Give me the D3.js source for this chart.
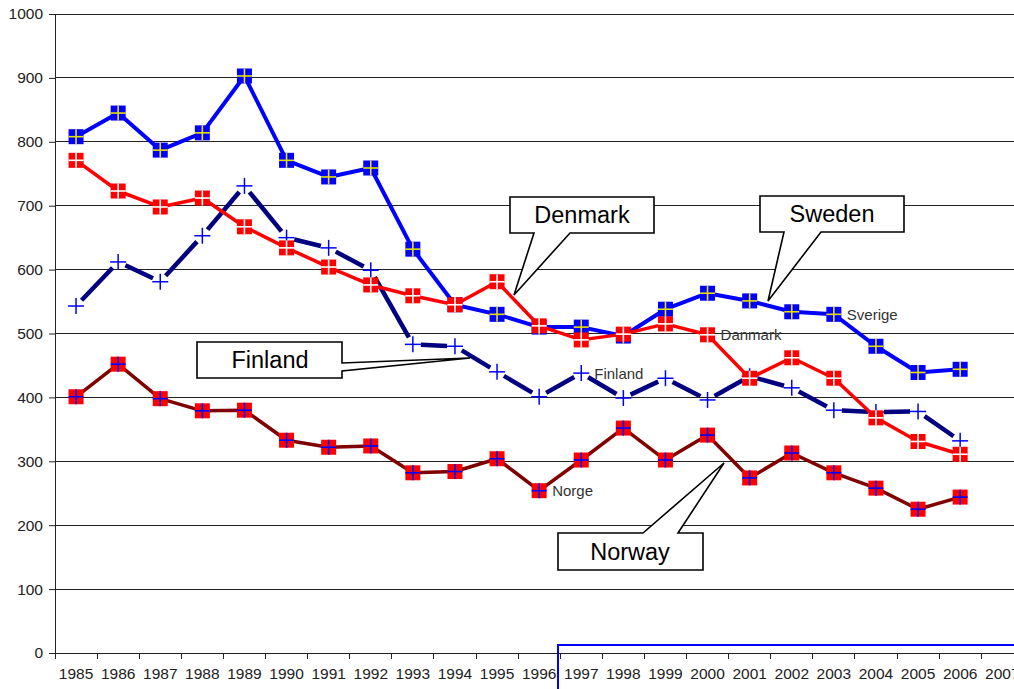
<!DOCTYPE html>
<html><head><meta charset="utf-8">
<script src="https://cdn.jsdelivr.net/npm/d3@7"></script>
<style>body{margin:0;background:#fff;}svg{display:block;font-family:"Liberation Sans",Arial,sans-serif;}</style>
</head><body>
<svg id="c" width="1014" height="689"></svg>
<script>
const years = d3.range(1985, 2008).map(String);
const dataYears = d3.range(1985, 2007).map(String);
const yTicks = [0,100,200,300,400,500,600,700,800,900,1000];
const sweden  = [808,845,787,814,903,771,745,759,632,545,530,510,510,496,538,563,551,534,530,480,439,444];
const denmark = [771,723,698,712,667,634,604,576,559,545,581,512,490,499,515,498,430,462,430,368,331,311];
const finland = [543,612,581,653,731,650,634,599,483,480,440,401,438,399,430,396,433,415,380,377,378,332];
const norway  = [401,452,398,379,380,333,322,324,282,284,304,254,302,352,302,341,274,313,282,258,225,244];

const svg = d3.select("#c");
const x = d3.scaleBand().domain(years).range([55, 55 + 23*42.1]).padding(0);
const y = d3.scaleLinear().domain([0,1000]).range([653,14]);
const cx = d => x(d) + x.bandwidth()/2;
const FONT = "Liberation Sans, Arial, sans-serif";

// gridlines
svg.append("g").selectAll("line").data(yTicks.filter(v=>v>0)).join("line")
  .attr("x1",55).attr("x2",1014).attr("y1",d=>y(d)).attr("y2",d=>y(d))
  .attr("stroke","#222").attr("stroke-width",1).attr("shape-rendering","crispEdges");

// y axis
const ya = svg.append("g").attr("transform","translate(55,0)")
  .call(d3.axisLeft(y).tickValues(yTicks).tickFormat(d3.format("d")).tickSize(6).tickPadding(6).tickSizeOuter(0));
ya.select(".domain").attr("stroke","#222");
ya.selectAll(".tick line").attr("stroke","#222");
ya.selectAll("text").attr("font-size",15.5).attr("fill","#222").attr("font-family",FONT);

// x axis
const xa = svg.append("g").attr("transform","translate(0,653)")
  .call(d3.axisBottom(x).tickSize(0).tickPadding(15).tickSizeOuter(0));
xa.select(".domain").attr("stroke","#222");
xa.selectAll("text").attr("font-size",15.5).attr("fill","#222").attr("font-family",FONT);
svg.append("g").selectAll("line").data(years).join("line")
  .attr("x1",d=>x(d)).attr("x2",d=>x(d)).attr("y1",653).attr("y2",659)
  .attr("stroke","#222").attr("shape-rendering","crispEdges");

const line = d3.line().x((d,i)=>cx(dataYears[i])).y(d=>y(d));

function flagSeries(vals, lineColor, lw, fill, crossColor) {
  svg.append("path").datum(vals).attr("d", line).attr("fill","none")
    .attr("stroke", lineColor).attr("stroke-width", lw).attr("stroke-linejoin","round");
  const g = svg.append("g");
  const s = 15;
  vals.forEach((v,i)=>{
    const px = cx(dataYears[i]), py = y(v);
    g.append("rect").attr("x",px-s/2).attr("y",py-s/2).attr("width",s).attr("height",s).attr("fill",fill);
    g.append("line").attr("x1",px-s/2).attr("x2",px+s/2).attr("y1",py).attr("y2",py).attr("stroke",crossColor).attr("stroke-width",1.6);
    g.append("line").attr("x1",px).attr("x2",px).attr("y1",py-s/2).attr("y2",py+s/2).attr("stroke",crossColor).attr("stroke-width",1.6);
  });
}

// Norway
flagSeries(norway, "#800000", 3.5, "#ff0000", "#0000ff");

// Finland: thick navy line with gaps around plus markers
{
  const g = svg.append("g");
  const trim = 8;
  for (let i=0;i<finland.length-1;i++){
    const x1=cx(dataYears[i]), y1=y(finland[i]), x2=cx(dataYears[i+1]), y2=y(finland[i+1]);
    const dx=x2-x1, dy=y2-y1, L=Math.hypot(dx,dy), ux=dx/L, uy=dy/L;
    g.append("line").attr("x1",x1+ux*trim).attr("y1",y1+uy*trim).attr("x2",x2-ux*trim).attr("y2",y2-uy*trim)
      .attr("stroke","#000080").attr("stroke-width",4.5);
  }
  finland.forEach((v,i)=>{
    const px=cx(dataYears[i]), py=y(v), h=8;
    g.append("line").attr("x1",px-h).attr("x2",px+h).attr("y1",py).attr("y2",py).attr("stroke","#0000ff").attr("stroke-width",1.5);
    g.append("line").attr("x1",px).attr("x2",px).attr("y1",py-h).attr("y2",py+h).attr("stroke","#0000ff").attr("stroke-width",1.5);
  });
}

// Sweden
flagSeries(sweden, "#0000ff", 4, "#0000ff", "#e8e000");
// Denmark
flagSeries(denmark, "#ff0000", 3.5, "#ff0000", "#ffffff");

// data labels
const dl = [["Sverige","2003",sweden[18]],["Danmark","2000",denmark[15]],["Finland","1997",finland[12]],["Norge","1996",norway[11]]];
svg.append("g").selectAll("text").data(dl).join("text")
  .attr("x",d=>cx(d[1])+13).attr("y",d=>y(d[2])+5.5)
  .attr("font-size",15).attr("fill","#333").text(d=>d[0]);

// callouts
function callout(pts, label, tx, ty){
  svg.append("path").attr("d", d3.line()(pts)+"Z").attr("fill","#fff").attr("stroke","#000").attr("stroke-width",1.6);
  svg.append("text").attr("x",tx).attr("y",ty).attr("text-anchor","middle").attr("font-size",23.5).attr("fill","#000").text(label);
}
callout([[510,197],[654,197],[654,233],[570,233],[514,295],[534,233],[510,233]], "Denmark", 582, 223);
callout([[760,196],[904,196],[904,232],[821,232],[768,301],[784,232],[760,232]], "Sweden", 832, 222);
callout([[197,342],[342,342],[342,363],[470,358],[342,371],[342,378],[197,378]], "Finland", 270, 368);
callout([[558,533],[643,533],[724,463],[678,533],[703,533],[703,570],[558,570]], "Norway", 630, 560);

// blue frame artifact at bottom
svg.append("path").attr("d","M558,689 L558,645 L1014,645").attr("fill","none").attr("stroke","#0000ff").attr("stroke-width",2);
</script>
</body></html>
